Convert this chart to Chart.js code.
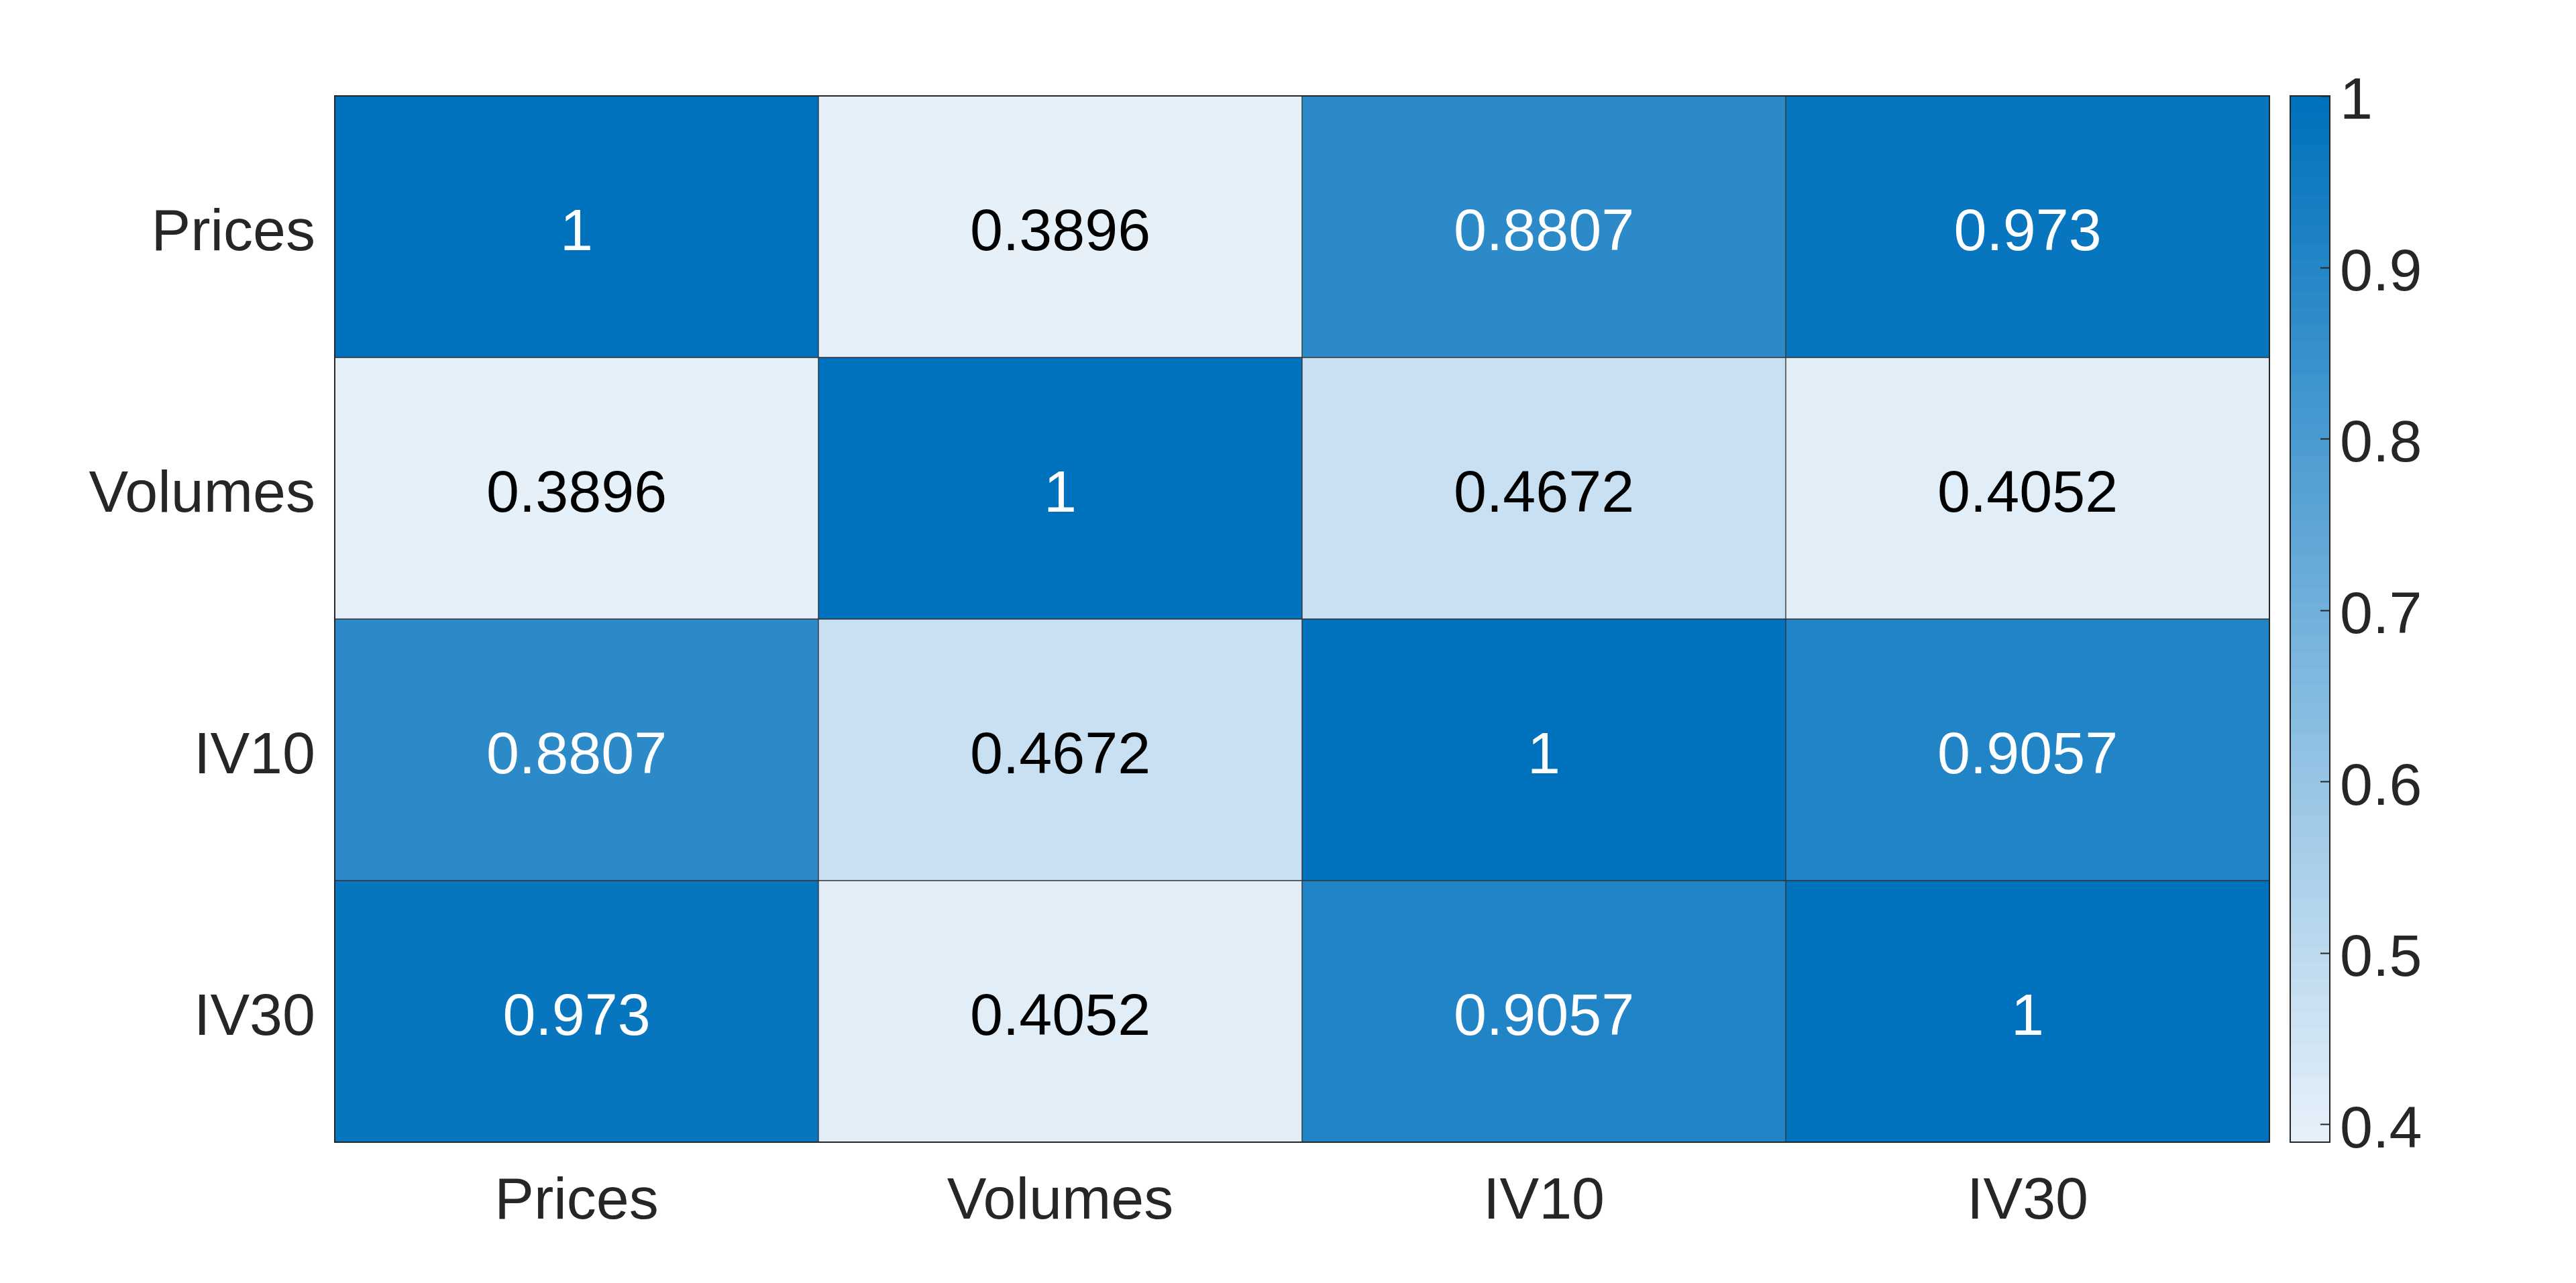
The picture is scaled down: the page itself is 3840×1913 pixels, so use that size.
<!DOCTYPE html>
<html>
<head>
<meta charset="utf-8">
<script src="https://cdn.jsdelivr.net/npm/chart.js@4"></script>
<style>
  html, body { margin: 0; padding: 0; background: #ffffff; }
  #wrap { width: 3840px; height: 1913px; }
</style>
</head>
<body>
<div id="wrap"><canvas id="c" width="3840" height="1913"></canvas></div>
<script>
// ---- data ----
const variables = ['Prices', 'Volumes', 'IV10', 'IV30'];
const rowPrices  = [1, 0.3896, 0.8807, 0.973];
const rowVolumes = [0.3896, 1, 0.4672, 0.4052];
const rowIV10    = [0.8807, 0.4672, 1, 0.9057];
const rowIV30    = [0.973, 0.4052, 0.9057, 1];
const colorbarTicks = [0.4, 0.5, 0.6, 0.7, 0.8, 0.9, 1];

const rows = [rowPrices, rowVolumes, rowIV10, rowIV30];
const allVals = rows.flat();
const cMin = Math.min(...allVals);
const cMax = Math.max(...allVals);

// colormap (light sky -> MATLAB blue), 64 levels
const LOW = [229, 240, 249];
const HIGH = [0, 114, 189];
const NLEV = 64;
function levelColor(k) {
  const t = k / (NLEV - 1);
  const c = LOW.map((l, i) => Math.round(l + (HIGH[i] - l) * t));
  return `rgb(${c[0]},${c[1]},${c[2]})`;
}
function colorFor(v) {
  let t = (v - cMin) / (cMax - cMin);
  let k = Math.min(NLEV - 1, Math.max(0, Math.floor(t * NLEV)));
  return levelColor(k);
}

const FONT = { family: "'Liberation Sans', Arial, sans-serif", size: 88 };
const TEXT = '#262626';

const datasets = rows.map((row, r) => ({
  label: variables[r],
  data: row.map(() => [r, r + 1]),
  values: row,
  backgroundColor: row.map(v => colorFor(v)),
  borderColor: '#333333',
  borderWidth: 1,
  borderSkipped: false,
  grouped: false,
  categoryPercentage: 1,
  barPercentage: 1
}));

const cellText = {
  id: 'cellText',
  afterDatasetsDraw(chart) {
    const ctx = chart.ctx;
    ctx.save();
    ctx.font = `${FONT.size}px ${FONT.family}`;
    ctx.textAlign = 'center';
    ctx.textBaseline = 'middle';
    chart.data.datasets.forEach((ds, di) => {
      const meta = chart.getDatasetMeta(di);
      meta.data.forEach((bar, j) => {
        const v = ds.values[j];
        const cx = bar.x;
        const cy = (bar.y + bar.base) / 2;
        ctx.fillStyle = v > 0.7 ? '#ffffff' : '#000000';
        ctx.fillText(String(v), cx, cy + 11);
      });
    });
    // outer frame
    const a = chart.chartArea;
    ctx.strokeStyle = '#262626';
    ctx.lineWidth = 2;
    ctx.strokeRect(a.left, a.top, a.right - a.left, a.bottom - a.top);
    ctx.restore();
  }
};

const colorbar = {
  id: 'colorbar',
  afterDraw(chart) {
    const ctx = chart.ctx;
    const s = chart.scales.cb;
    const a = chart.chartArea;
    const x0 = a.right + 31;
    const w = 59;
    ctx.save();
    for (let k = 0; k < NLEV; k++) {
      const v0 = cMin + (cMax - cMin) * k / NLEV;
      const v1 = cMin + (cMax - cMin) * (k + 1) / NLEV;
      const yA = s.getPixelForValue(v0);
      const yB = s.getPixelForValue(v1);
      ctx.fillStyle = levelColor(k);
      ctx.fillRect(x0, Math.min(yA, yB) - 0.5, w, Math.abs(yA - yB) + 1);
    }
    ctx.strokeStyle = '#262626';
    ctx.lineWidth = 2;
    colorbarTicks.forEach(t => {
      const y = Math.round(s.getPixelForValue(t)) + 0.5;
      ctx.beginPath();
      ctx.moveTo(x0 + w, y);
      ctx.lineTo(x0 + w - 14, y);
      ctx.stroke();
    });
    ctx.strokeRect(x0, s.top, w, s.bottom - s.top);
    ctx.restore();
  }
};

function noPad(s) {
  s.paddingTop = 0; s.paddingBottom = 0; s.paddingLeft = 0; s.paddingRight = 0;
}

new Chart(document.getElementById('c'), {
  type: 'bar',
  data: { labels: variables, datasets },
  options: {
    responsive: false,
    devicePixelRatio: 1,
    animation: false,
    layout: { padding: { top: 143, left: 0, right: 0, bottom: 0 } },
    plugins: { legend: { display: false }, tooltip: { enabled: false } },
    scales: {
      x: {
        type: 'category',
        offset: true,
        grid: { display: false, drawTicks: false },
        border: { display: false },
        ticks: { font: FONT, color: TEXT, padding: 37, maxRotation: 0 },
        afterFit(s) { s.height = 1913 - 1703; noPad(s); }
      },
      y: {
        type: 'linear',
        min: 0, max: 4, reverse: true,
        grid: { display: false, drawTicks: false },
        border: { display: false },
        afterBuildTicks(s) { s.ticks = variables.map((_, i) => ({ value: i + 0.5 })); },
        ticks: {
          font: FONT, color: TEXT, padding: 29, labelOffset: 11,
          callback: (v, i) => variables[i]
        },
        afterFit(s) { s.width = 499; noPad(s); }
      },
      cb: {
        type: 'linear',
        position: 'right',
        min: cMin, max: cMax,
        grid: { display: false, drawTicks: false },
        border: { display: false },
        afterBuildTicks(s) { s.ticks = colorbarTicks.map(v => ({ value: v })); },
        ticks: {
          font: FONT, color: TEXT, padding: 105, labelOffset: 10,
          callback: (v) => String(v)
        },
        afterFit(s) { s.width = 3840 - 3383; noPad(s); }
      }
    }
  },
  plugins: [cellText, colorbar]
});
</script>
</body>
</html>
